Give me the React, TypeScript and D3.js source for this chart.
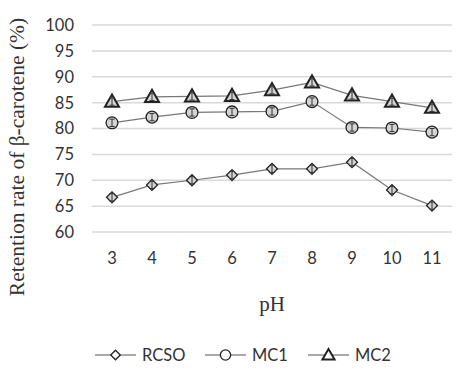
import React, { useRef, useEffect } from 'react'
import * as d3 from 'd3'

const phLevels = ['3', '4', '5', '6', '7', '8', '9', '10', '11']
const rcso = [66.7, 69.1, 70.0, 71.0, 72.2, 72.2, 73.5, 68.1, 65.1]
const mc1 = [81.1, 82.2, 83.1, 83.2, 83.3, 85.2, 80.2, 80.1, 79.3]
const mc2 = [85.2, 86.1, 86.2, 86.3, 87.4, 88.9, 86.4, 85.2, 84.0]
const errs = [0.7, 0.7, 0.7, 0.7, 0.7, 0.7, 0.7, 0.7, 0.7]
const yTicks = [60, 65, 70, 75, 80, 85, 90, 95, 100]
const seriesNames = ['RCSO', 'MC1', 'MC2']

function App() {
  const ref = useRef<SVGSVGElement>(null)

  useEffect(() => {
    const svg = d3.select(ref.current)
    svg.selectAll('*').remove()

    const x = d3.scaleBand().domain(phLevels).range([92, 452])
    const y = d3.scaleLinear().domain([60, 100]).range([232, 25])
    const cx = (i: number) => (x(phLevels[i]) as number) + x.bandwidth() / 2

    svg.append('g').selectAll('line').data(yTicks).join('line')
      .attr('x1', 92).attr('x2', 452)
      .attr('y1', d => y(d)).attr('y2', d => y(d))
      .attr('stroke', '#d9d9d9').attr('stroke-width', 1.5)

    svg.append('g').selectAll('text').data(yTicks).join('text')
      .attr('x', 74).attr('y', d => y(d)).attr('dy', '0.36em')
      .attr('text-anchor', 'end')
      .style('font', '16.5px Lato, "Open Sans", sans-serif').attr('fill', '#333')
      .text(d => d)

    svg.append('g').selectAll('text').data(phLevels).join('text')
      .attr('x', (d, i) => cx(i)).attr('y', 264)
      .attr('text-anchor', 'middle')
      .style('font', '16.5px Lato, "Open Sans", sans-serif').attr('fill', '#333')
      .text(d => d)

    svg.append('text').attr('x', 272).attr('y', 311).attr('text-anchor', 'middle')
      .style('font', '21px "Liberation Serif", "DejaVu Serif", serif').attr('fill', '#333')
      .text('pH')

    svg.append('text')
      .attr('transform', 'translate(24,157) rotate(-90)')
      .attr('text-anchor', 'middle')
      .style('font', '21.5px "Liberation Serif", "DejaVu Serif", serif').attr('fill', '#333')
      .text('Retention rate of β-carotene (%)')

    // diamond as a rotated square so it's as wide as it is tall
    const symbols = [d3.symbolSquare, d3.symbolCircle, d3.symbolTriangle]
    const sizes = [60, 110, 85]
    const rot = [45, 0, 0]
    const strokeW = [1.3, 1.3, 2]
    const data = [rcso, mc1, mc2]
    const line = d3.line<number>().x((d, i) => cx(i)).y(d => y(d))

    data.forEach((vals, s) => {
      const g = svg.append('g')
      g.append('path').attr('d', line(vals)).attr('fill', 'none')
        .attr('stroke', '#777').attr('stroke-width', 1.2)
      const sym = d3.symbol().type(symbols[s]).size(sizes[s])
      g.selectAll('path.m').data(vals).join('path').attr('class', 'm')
        .attr('d', sym())
        .attr('transform', (d, i) => `translate(${cx(i)},${y(d) + (s === 2 ? 1 : 0)}) rotate(${rot[s]})`)
        .attr('fill', '#d4d4d4').attr('stroke', '#222').attr('stroke-width', strokeW[s])
      g.selectAll('line.e').data(vals).join('line').attr('class', 'e')
        .attr('x1', (d, i) => cx(i)).attr('x2', (d, i) => cx(i))
        .attr('y1', (d, i) => y(d - errs[i])).attr('y2', (d, i) => y(d + errs[i]))
        .attr('stroke', '#333').attr('stroke-width', 1)
      g.selectAll('line.c1').data(vals).join('line').attr('class', 'c1')
        .attr('x1', (d, i) => cx(i) - 2.5).attr('x2', (d, i) => cx(i) + 2.5)
        .attr('y1', (d, i) => y(d + errs[i])).attr('y2', (d, i) => y(d + errs[i]))
        .attr('stroke', '#333').attr('stroke-width', 1)
      g.selectAll('line.c2').data(vals).join('line').attr('class', 'c2')
        .attr('x1', (d, i) => cx(i) - 2.5).attr('x2', (d, i) => cx(i) + 2.5)
        .attr('y1', (d, i) => y(d - errs[i])).attr('y2', (d, i) => y(d - errs[i]))
        .attr('stroke', '#333').attr('stroke-width', 1)
    })

    const legX = [95, 205, 308]
    const lg = svg.append('g')
    seriesNames.forEach((name, s) => {
      const x0 = legX[s]
      lg.append('line').attr('x1', x0).attr('x2', x0 + 41).attr('y1', 355).attr('y2', 355)
        .attr('stroke', '#555').attr('stroke-width', 1.2)
      lg.append('path').attr('d', d3.symbol().type(symbols[s]).size(sizes[s] * 0.75)())
        .attr('transform', `translate(${x0 + 20.5},${355 + (s === 2 ? 1 : 0)}) rotate(${rot[s]})`)
        .attr('fill', '#fff').attr('stroke', '#222').attr('stroke-width', strokeW[s])
      lg.append('text').attr('x', x0 + 47).attr('y', 355).attr('dy', '0.36em')
        .style('font', '16.5px Lato, "Open Sans", sans-serif').attr('fill', '#333')
        .text(name)
    })
  }, [])

  return (
    <svg ref={ref} width={465} height={371}
      style={{ position: 'absolute', left: 0, top: 0, background: '#fff' }} />
  )
}

export default App
